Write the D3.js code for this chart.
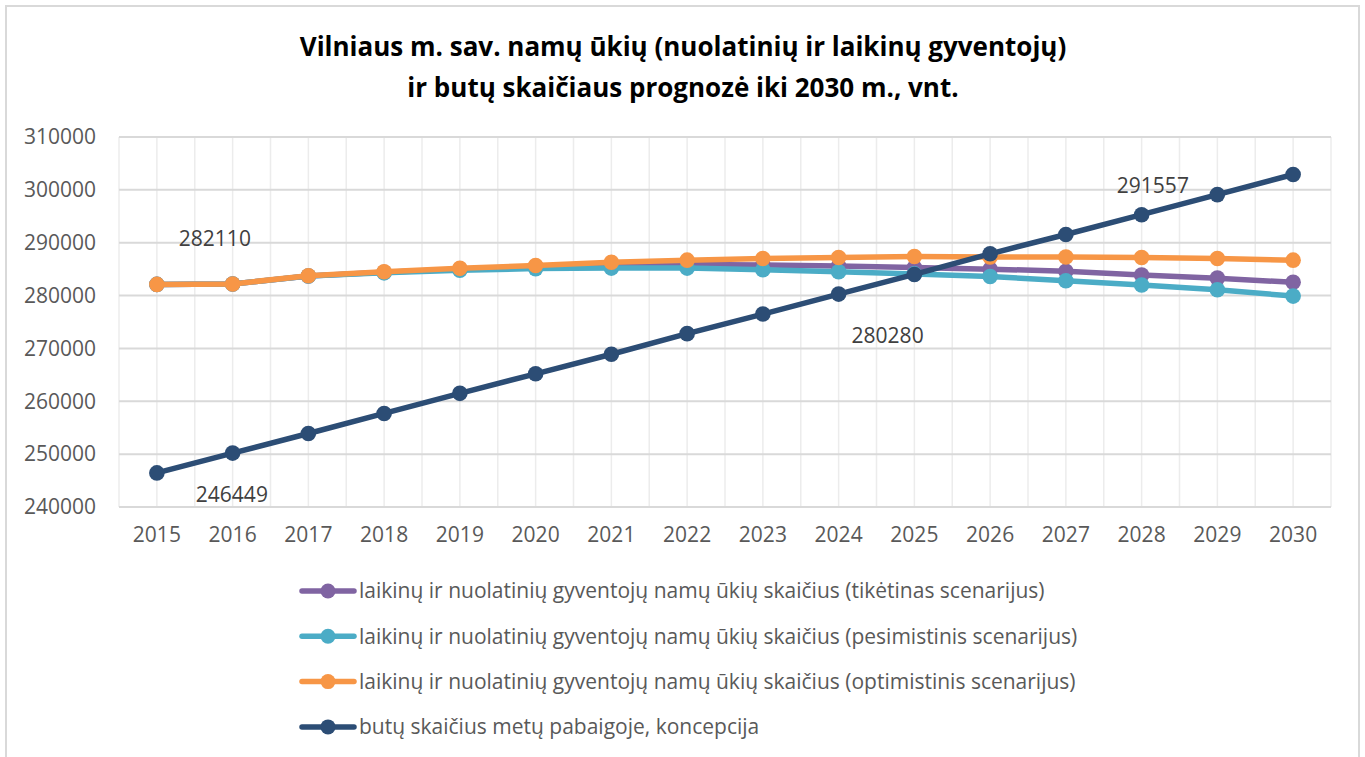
<!DOCTYPE html>
<html>
<head>
<meta charset="utf-8">
<script src="https://cdn.jsdelivr.net/npm/d3@7"></script>
<style>
  body { margin: 0; background: #fff; }
  svg { display: block; font-family: "Open Sans", sans-serif; }
</style>
</head>
<body>
<svg id="chart" width="1365" height="757"></svg>
<script>
// values
var years = ['2015', '2016', '2017', '2018', '2019', '2020', '2021', '2022',
  '2023', '2024', '2025', '2026', '2027', '2028', '2029', '2030'];

var tiketinas = [282110, 282200, 283700, 284400, 285000, 285500, 285800, 285900,
  285800, 285600, 285300, 285000, 284600, 283900, 283300, 282500];
var pesimistinis = [282110, 282200, 283700, 284300, 284800, 285100, 285200, 285200,
  284900, 284500, 284100, 283600, 282800, 282000, 281100, 279900];
var optimistinis = [282110, 282200, 283750, 284500, 285150, 285700, 286300, 286700,
  287000, 287200, 287400, 287300, 287300, 287200, 287000, 286700];
var butai = [246449, 250200, 253900, 257700, 261500, 265200, 268900, 272800,
  276500, 280280, 284000, 287900, 291557, 295300, 299100, 302900];

var seriesNames = [
  'laikinų ir nuolatinių gyventojų namų ūkių skaičius (tikėtinas scenarijus)',
  'laikinų ir nuolatinių gyventojų namų ūkių skaičius (pesimistinis scenarijus)',
  'laikinų ir nuolatinių gyventojų namų ūkių skaičius (optimistinis scenarijus)',
  'butų skaičius metų pabaigoje, koncepcija'
];
var seriesColors = ['#8064a2', '#4bacc6', '#f79646', '#2c4d75'];
var yTicks = [240000, 250000, 260000, 270000, 280000, 290000, 300000, 310000];

var titleLines = [
  'Vilniaus m. sav. namų ūkių (nuolatinių ir laikinų gyventojų)',
  'ir butų skaičiaus prognozė iki 2030 m., vnt.'
];

var series = [tiketinas, pesimistinis, optimistinis, butai].map(function(vals, i) {
  return { name: seriesNames[i], color: seriesColors[i], values: vals };
});

var svg = d3.select('#chart');

// outer frame
svg.append('rect')
  .attr('x', 6).attr('y', 6)
  .attr('width', 1353).attr('height', 760)
  .attr('fill', 'none')
  .attr('stroke', '#d9d9d9')
  .attr('stroke-width', 2);

// title
svg.append('g').selectAll('text')
  .data(titleLines)
  .enter()
  .append('text')
  .attr('x', 683)
  .attr('y', function(d, i) { return 56 + i * 41; })
  .attr('text-anchor', 'middle')
  .attr('font-size', 26)
  .attr('font-weight', 700)
  .attr('fill', '#000')
  .text(function(d) { return d; });

var plotLeft = 119, plotRight = 1331, plotTop = 137, plotBottom = 507;

var x = d3.scaleBand().domain(years).range([plotLeft, plotRight]);
var y = d3.scaleLinear().domain([240000, 310000]).range([plotBottom, plotTop]);

function cx(d, i) { return x(years[i]) + x.bandwidth() / 2; }

// vertical gridlines at every half category
var vLines = [];
years.forEach(function(yr) {
  vLines.push(x(yr));
  vLines.push(x(yr) + x.bandwidth() / 2);
});
vLines.push(plotRight);

svg.append('g').selectAll('line')
  .data(vLines)
  .enter()
  .append('line')
  .attr('x1', function(d) { return d; })
  .attr('x2', function(d) { return d; })
  .attr('y1', plotTop).attr('y2', plotBottom)
  .attr('stroke', '#ececec')
  .attr('stroke-width', 1.5);

// horizontal gridlines
svg.append('g').selectAll('line')
  .data(yTicks)
  .enter()
  .append('line')
  .attr('x1', plotLeft).attr('x2', plotRight)
  .attr('y1', function(d) { return y(d); })
  .attr('y2', function(d) { return y(d); })
  .attr('stroke', '#d9d9d9')
  .attr('stroke-width', 2);

// y axis labels
var yAxis = d3.axisLeft(y).tickValues(yTicks).tickSize(0).tickPadding(23).tickFormat(d3.format('d'));
var yG = svg.append('g').attr('transform', 'translate(' + plotLeft + ',0)').call(yAxis);
yG.select('.domain').remove();
yG.selectAll('text').attr('font-size', 21).attr('fill', '#595959').attr('font-family', '"Open Sans", sans-serif');

// x axis labels
var xAxis = d3.axisBottom(x).tickSize(0).tickPadding(20);
var xG = svg.append('g').attr('transform', 'translate(0,' + plotBottom + ')').call(xAxis);
xG.select('.domain').remove();
xG.selectAll('text').attr('font-size', 21).attr('fill', '#595959').attr('font-family', '"Open Sans", sans-serif');

// lines + markers
var line = d3.line()
  .x(function(d, i) { return cx(d, i); })
  .y(function(d) { return y(d); });

series.forEach(function(s) {
  var g = svg.append('g');
  g.append('path')
    .attr('d', line(s.values))
    .attr('fill', 'none')
    .attr('stroke', s.color)
    .attr('stroke-width', 5.5)
    .attr('stroke-linejoin', 'round')
    .attr('stroke-linecap', 'round');
  g.selectAll('circle')
    .data(s.values)
    .enter()
    .append('circle')
    .attr('cx', cx)
    .attr('cy', function(d) { return y(d); })
    .attr('r', 7.8)
    .attr('fill', s.color);
});

// data labels (moved by hand in the original, so offsets from their points)
var labels = [
  { s: 2, i: 0, dx: 58, dy: -46 },
  { s: 3, i: 0, dx: 75, dy: 22 },
  { s: 3, i: 9, dx: 49, dy: 42 },
  { s: 3, i: 12, dx: 87, dy: -49 }
];
svg.append('g').selectAll('text')
  .data(labels)
  .enter()
  .append('text')
  .attr('x', function(d) { return cx(null, d.i) + d.dx; })
  .attr('y', function(d) { return y(series[d.s].values[d.i]) + d.dy; })
  .attr('dy', '0.35em')
  .attr('text-anchor', 'middle')
  .attr('font-size', 21)
  .attr('fill', '#404040')
  .text(function(d) { return series[d.s].values[d.i]; });

// legend
var leg = svg.append('g').selectAll('g')
  .data(series)
  .enter()
  .append('g')
  .attr('transform', function(d, i) { return 'translate(300,' + (591 + i * 45.3) + ')'; });

leg.append('line')
  .attr('x1', 2).attr('x2', 54)
  .attr('stroke', function(d) { return d.color; })
  .attr('stroke-width', 5.5)
  .attr('stroke-linecap', 'round');
leg.append('circle')
  .attr('cx', 28).attr('r', 7.5)
  .attr('fill', function(d) { return d.color; });
leg.append('text')
  .attr('x', 59)
  .attr('dy', '0.35em')
  .attr('font-size', 21)
  .attr('fill', '#595959')
  .text(function(d) { return d.name; });
</script>
</body>
</html>
